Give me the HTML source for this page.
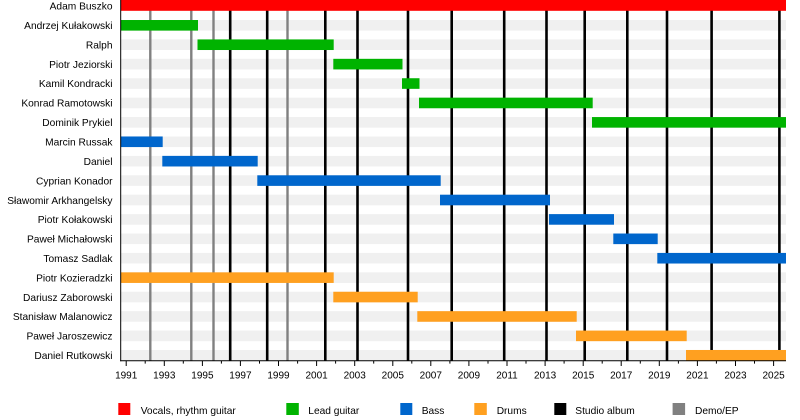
<!DOCTYPE html>
<html><head><meta charset="utf-8"><style>
html,body{margin:0;padding:0;background:#fff;}
svg{display:block;}
text{font-family:"Liberation Sans",Arial,sans-serif;fill:#000;}
</style></head><body>
<svg width="800" height="420" viewBox="0 0 800 420" xmlns="http://www.w3.org/2000/svg">
<rect x="0" y="0" width="800" height="420" fill="#fff"/>
<!-- stripes -->
<g fill="#f0f0f0">
<rect x="121" y="20.01" width="665" height="10.6"/>
<rect x="121" y="39.42" width="665" height="10.6"/>
<rect x="121" y="58.83" width="665" height="10.6"/>
<rect x="121" y="78.24" width="665" height="10.6"/>
<rect x="121" y="97.65" width="665" height="10.6"/>
<rect x="121" y="117.06" width="665" height="10.6"/>
<rect x="121" y="136.47" width="665" height="10.6"/>
<rect x="121" y="155.88" width="665" height="10.6"/>
<rect x="121" y="175.29" width="665" height="10.6"/>
<rect x="121" y="194.7" width="665" height="10.6"/>
<rect x="121" y="214.11" width="665" height="10.6"/>
<rect x="121" y="233.52" width="665" height="10.6"/>
<rect x="121" y="252.93" width="665" height="10.6"/>
<rect x="121" y="272.34" width="665" height="10.6"/>
<rect x="121" y="291.75" width="665" height="10.6"/>
<rect x="121" y="311.16" width="665" height="10.6"/>
<rect x="121" y="330.57" width="665" height="10.6"/>
<rect x="121" y="349.98" width="665" height="10.6"/>
</g>
<!-- demo lines -->
<g stroke="#808080" stroke-width="2.4">
<line x1="150.3" y1="0" x2="150.3" y2="360.5"/>
<line x1="191.3" y1="0" x2="191.3" y2="360.5"/>
<line x1="213.5" y1="0" x2="213.5" y2="360.5"/>
<line x1="287.5" y1="0" x2="287.5" y2="360.5"/>
</g>
<!-- studio lines -->
<g stroke="#000" stroke-width="2.6">
<line x1="230.2" y1="0" x2="230.2" y2="360.5"/>
<line x1="267.2" y1="0" x2="267.2" y2="360.5"/>
<line x1="325.3" y1="0" x2="325.3" y2="360.5"/>
<line x1="357.5" y1="0" x2="357.5" y2="360.5"/>
<line x1="408" y1="0" x2="408" y2="360.5"/>
<line x1="451.7" y1="0" x2="451.7" y2="360.5"/>
<line x1="504.2" y1="0" x2="504.2" y2="360.5"/>
<line x1="546.5" y1="0" x2="546.5" y2="360.5"/>
<line x1="584.7" y1="0" x2="584.7" y2="360.5"/>
<line x1="627.3" y1="0" x2="627.3" y2="360.5"/>
<line x1="667" y1="0" x2="667" y2="360.5"/>
<line x1="711.6" y1="0" x2="711.6" y2="360.5"/>
<line x1="779.4" y1="0" x2="779.4" y2="360.5"/>
</g>
<!-- bars -->
<rect x="120.7" y="0" width="665.3" height="10.8" fill="#ff0000"/>
<g fill="#00b300">
<rect x="120.7" y="20.01" width="77.3" height="10.6"/>
<rect x="197.5" y="39.42" width="136.2" height="10.6"/>
<rect x="333.3" y="58.83" width="69.2" height="10.6"/>
<rect x="402" y="78.24" width="17.5" height="10.6"/>
<rect x="419" y="97.65" width="173.7" height="10.6"/>
<rect x="592" y="117.06" width="194" height="10.6"/>
</g>
<g fill="#0066cc">
<rect x="120.7" y="136.47" width="42" height="10.6"/>
<rect x="162.3" y="155.88" width="95.4" height="10.6"/>
<rect x="257.3" y="175.29" width="183.4" height="10.6"/>
<rect x="440" y="194.7" width="110" height="10.6"/>
<rect x="549" y="214.11" width="65" height="10.6"/>
<rect x="613.3" y="233.52" width="44.4" height="10.6"/>
<rect x="657.3" y="252.93" width="128.7" height="10.6"/>
</g>
<g fill="#ffa020">
<rect x="120.7" y="272.34" width="213" height="10.6"/>
<rect x="333.3" y="291.75" width="84.4" height="10.6"/>
<rect x="417.3" y="311.16" width="159.4" height="10.6"/>
<rect x="576" y="330.57" width="110.7" height="10.6"/>
<rect x="686" y="349.98" width="100" height="10.6"/>
</g>
<!-- axes -->
<line x1="120.7" y1="0" x2="120.7" y2="361.2" stroke="#000" stroke-width="1"/>
<line x1="120.2" y1="360.8" x2="786" y2="360.8" stroke="#000" stroke-width="1"/>
<g stroke="#000" stroke-width="1">
<line x1="126.2" y1="361" x2="126.2" y2="366"/>
<line x1="145.2" y1="361" x2="145.2" y2="363.6"/>
<line x1="164.3" y1="361" x2="164.3" y2="366"/>
<line x1="183.3" y1="361" x2="183.3" y2="363.6"/>
<line x1="202.4" y1="361" x2="202.4" y2="366"/>
<line x1="221.4" y1="361" x2="221.4" y2="363.6"/>
<line x1="240.4" y1="361" x2="240.4" y2="366"/>
<line x1="259.5" y1="361" x2="259.5" y2="363.6"/>
<line x1="278.5" y1="361" x2="278.5" y2="366"/>
<line x1="297.6" y1="361" x2="297.6" y2="363.6"/>
<line x1="316.6" y1="361" x2="316.6" y2="366"/>
<line x1="335.6" y1="361" x2="335.6" y2="363.6"/>
<line x1="354.7" y1="361" x2="354.7" y2="366"/>
<line x1="373.7" y1="361" x2="373.7" y2="363.6"/>
<line x1="392.8" y1="361" x2="392.8" y2="366"/>
<line x1="411.8" y1="361" x2="411.8" y2="363.6"/>
<line x1="430.8" y1="361" x2="430.8" y2="366"/>
<line x1="449.9" y1="361" x2="449.9" y2="363.6"/>
<line x1="468.9" y1="361" x2="468.9" y2="366"/>
<line x1="488" y1="361" x2="488" y2="363.6"/>
<line x1="507" y1="361" x2="507" y2="366"/>
<line x1="526" y1="361" x2="526" y2="363.6"/>
<line x1="545.1" y1="361" x2="545.1" y2="366"/>
<line x1="564.1" y1="361" x2="564.1" y2="363.6"/>
<line x1="583.2" y1="361" x2="583.2" y2="366"/>
<line x1="602.2" y1="361" x2="602.2" y2="363.6"/>
<line x1="621.2" y1="361" x2="621.2" y2="366"/>
<line x1="640.3" y1="361" x2="640.3" y2="363.6"/>
<line x1="659.3" y1="361" x2="659.3" y2="366"/>
<line x1="678.4" y1="361" x2="678.4" y2="363.6"/>
<line x1="697.4" y1="361" x2="697.4" y2="366"/>
<line x1="716.4" y1="361" x2="716.4" y2="363.6"/>
<line x1="735.5" y1="361" x2="735.5" y2="366"/>
<line x1="754.5" y1="361" x2="754.5" y2="363.6"/>
<line x1="773.6" y1="361" x2="773.6" y2="366"/>
</g>
<g font-size="10" text-anchor="middle">
<text x="126.2" y="378.5">1991</text>
<text x="164.3" y="378.5">1993</text>
<text x="202.4" y="378.5">1995</text>
<text x="240.4" y="378.5">1997</text>
<text x="278.5" y="378.5">1999</text>
<text x="316.6" y="378.5">2001</text>
<text x="354.7" y="378.5">2003</text>
<text x="392.8" y="378.5">2005</text>
<text x="430.8" y="378.5">2007</text>
<text x="468.9" y="378.5">2009</text>
<text x="507" y="378.5">2011</text>
<text x="545.1" y="378.5">2013</text>
<text x="583.2" y="378.5">2015</text>
<text x="621.2" y="378.5">2017</text>
<text x="659.3" y="378.5">2019</text>
<text x="697.4" y="378.5">2021</text>
<text x="735.5" y="378.5">2023</text>
<text x="773.6" y="378.5">2025</text>
</g>
<!-- row labels -->
<g font-size="10.2" text-anchor="end">
<text x="112.5" y="9.4">Adam Buszko</text>
<text x="112.5" y="29">Andrzej Kułakowski</text>
<text x="112.5" y="48.4">Ralph</text>
<text x="112.5" y="67.8">Piotr Jeziorski</text>
<text x="112.5" y="87.2">Kamil Kondracki</text>
<text x="112.5" y="106.7">Konrad Ramotowski</text>
<text x="112.5" y="126.1">Dominik Prykiel</text>
<text x="112.5" y="145.5">Marcin Russak</text>
<text x="112.5" y="164.9">Daniel</text>
<text x="112.5" y="184.3">Cyprian Konador</text>
<text x="112.5" y="203.8">Sławomir Arkhangelsky</text>
<text x="112.5" y="223.1">Piotr Kołakowski</text>
<text x="112.5" y="242.5">Paweł Michałowski</text>
<text x="112.5" y="261.9">Tomasz Sadlak</text>
<text x="112.5" y="281.3">Piotr Kozieradzki</text>
<text x="112.5" y="300.8">Dariusz Zaborowski</text>
<text x="112.5" y="320.2">Stanisław Malanowicz</text>
<text x="112.5" y="339.6">Paweł Jaroszewicz</text>
<text x="112.5" y="359">Daniel Rutkowski</text>
</g>
<!-- legend -->
<rect x="118.3" y="403" width="12" height="12" fill="#ff0000"/>
<rect x="286.3" y="403" width="12.5" height="12" fill="#00b300"/>
<rect x="400.3" y="403" width="12" height="12" fill="#0066cc"/>
<rect x="474.3" y="403" width="12.5" height="12" fill="#ffa020"/>
<rect x="554.3" y="403" width="12" height="12" fill="#000"/>
<rect x="672.6" y="403" width="12.5" height="12" fill="#808080"/>
<g font-size="10.2">
<text x="140.7" y="414">Vocals, rhythm guitar</text>
<text x="308.3" y="414">Lead guitar</text>
<text x="421.7" y="414">Bass</text>
<text x="496.7" y="414">Drums</text>
<text x="575.3" y="414">Studio album</text>
<text x="695" y="414">Demo/EP</text>
</g>
</svg>
</body></html>
